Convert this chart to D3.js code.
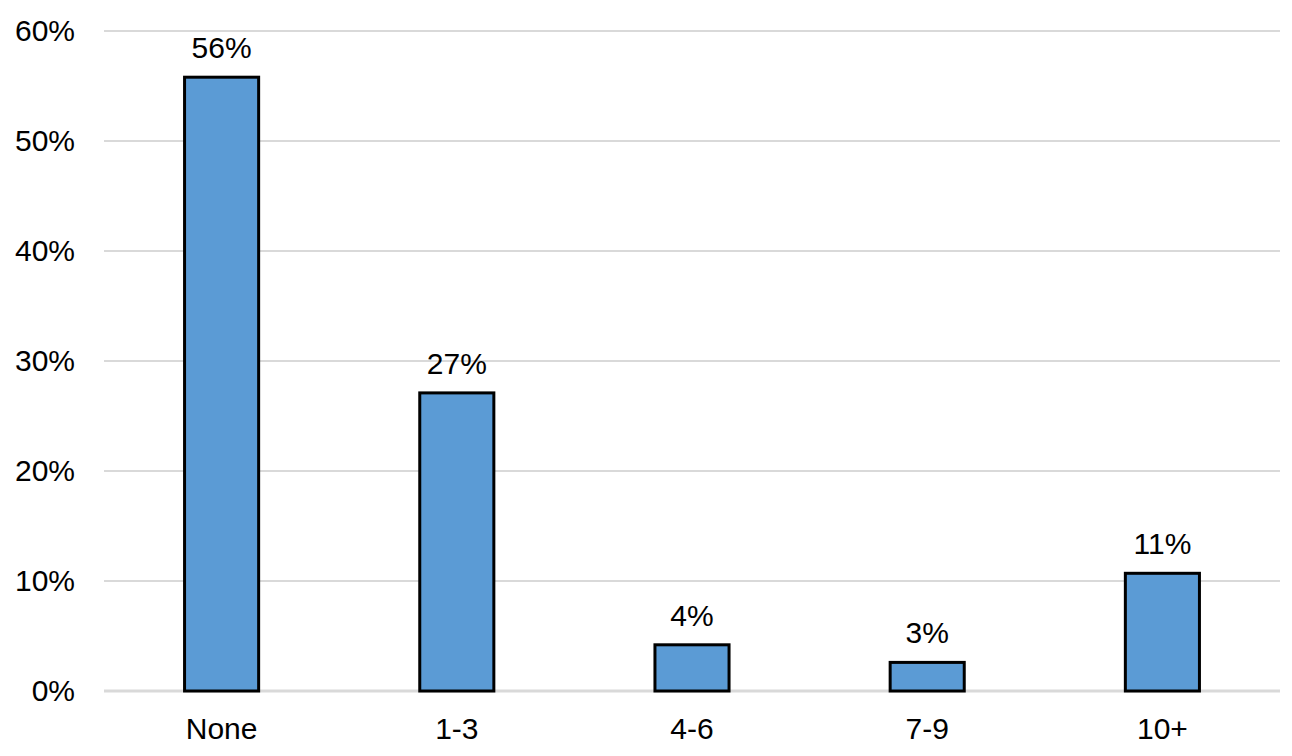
<!DOCTYPE html>
<html>
<head>
<meta charset="utf-8">
<script src="https://cdn.jsdelivr.net/npm/d3@7"></script>
<style>
  body { margin: 0; background: #fff; }
  svg { display: block; font-family: "Liberation Sans", Arial, sans-serif; }
</style>
</head>
<body>
<svg width="1292" height="756"></svg>
<script>

const categories = ["None", "1-3", "4-6", "7-9", "10+"];
const values = [55.8, 27.1, 4.2, 2.6, 10.7];
const labels = ["56%", "27%", "4%", "3%", "11%"];
const y_ticks = [0, 10, 20, 30, 40, 50, 60];

const svg = d3.select('svg');

const margin = {top: 31, right: 12, bottom: 65, left: 104};
const width = 1292 - margin.left - margin.right;
const height = 756 - margin.top - margin.bottom;
const fontSize = 30;

const g = svg.append("g")
    .attr("transform", `translate(${margin.left}, ${margin.top})`);

const x = d3.scaleBand()
    .domain(categories)
    .range([0, width])
    .paddingInner(0.685)
    .paddingOuter(0.3425);

const y = d3.scaleLinear()
    .domain([0, 60])
    .range([height, 0]);

// gridlines
g.append("g")
    .selectAll("line")
    .data(y_ticks)
    .join("line")
    .attr("x1", 0)
    .attr("x2", width)
    .attr("y1", d => y(d))
    .attr("y2", d => y(d))
    .attr("stroke", "#d9d9d9")
    .attr("stroke-width", d => d === 0 ? 3 : 2);

// y axis labels
const yAxis = g.append("g")
    .call(d3.axisLeft(y).tickValues(y_ticks).tickFormat(d => d + "%").tickSize(0).tickPadding(29));
yAxis.select(".domain").remove();
yAxis.selectAll("text")
    .attr("font-size", fontSize)
    .attr("font-family", "Liberation Sans, Arial, sans-serif")
    .attr("fill", "#000");

// x axis labels
const xAxis = g.append("g")
    .attr("transform", `translate(0, ${height})`)
    .call(d3.axisBottom(x).tickSize(0).tickPadding(27));
xAxis.select(".domain").remove();
xAxis.selectAll("text")
    .attr("font-size", fontSize)
    .attr("font-family", "Liberation Sans, Arial, sans-serif")
    .attr("fill", "#000");

// bars
g.append("g")
    .selectAll("rect")
    .data(values)
    .join("rect")
    .attr("x", (d, i) => x(categories[i]))
    .attr("y", d => y(d))
    .attr("width", x.bandwidth())
    .attr("height", d => height - y(d))
    .attr("fill", "#5b9bd5")
    .attr("stroke", "#000")
    .attr("stroke-width", 3);

// value labels
g.append("g")
    .selectAll("text")
    .data(values)
    .join("text")
    .attr("x", (d, i) => x(categories[i]) + x.bandwidth() / 2)
    .attr("y", d => y(d) - 19)
    .attr("text-anchor", "middle")
    .attr("font-size", fontSize)
    .attr("fill", "#000")
    .text((d, i) => labels[i]);

</script>
</body>
</html>
